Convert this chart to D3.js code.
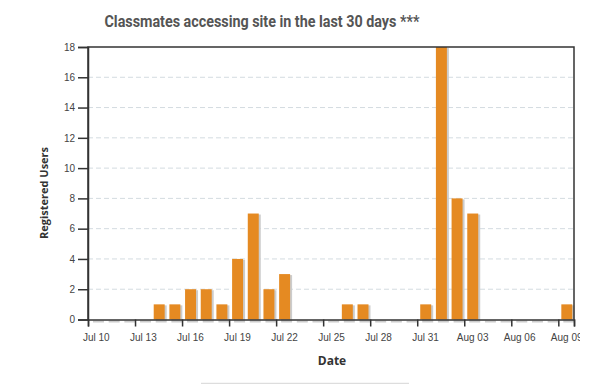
<!DOCTYPE html>
<html>
<head>
<meta charset="utf-8">
<script src="https://cdn.jsdelivr.net/npm/d3@7"></script>
<style>
  body { margin: 0; background: #fff; }
  svg { display: block; }
</style>
</head>
<body>
<svg id="chart" width="609" height="384"></svg>
<script>
// data
const days = ["2013-07-14", "2013-07-15", "2013-07-16", "2013-07-17", "2013-07-18",
    "2013-07-19", "2013-07-20", "2013-07-21", "2013-07-22", "2013-07-26", "2013-07-27",
    "2013-07-31", "2013-08-01", "2013-08-02", "2013-08-03", "2013-08-09"];
const users = [1, 1, 2, 2, 1, 4, 7, 2, 3, 1, 1, 1, 18, 8, 7, 1];
const rangeStart = "2013-07-10", rangeEnd = "2013-08-10";
const tickDays = ["2013-07-10", "2013-07-13", "2013-07-16", "2013-07-19", "2013-07-22",
    "2013-07-25", "2013-07-28", "2013-07-31", "2013-08-03", "2013-08-06", "2013-08-09"];
const yTicks = [0, 2, 4, 6, 8, 10, 12, 14, 16, 18];

const parse = d3.timeParse("%Y-%m-%d");

const svg = d3.select("#chart"),
    width = +svg.attr("width"),
    height = +svg.attr("height"),
    margin = { top: 47, right: 35, bottom: 64.5, left: 88 },
    chartWidth = width - margin.left - margin.right,
    chartHeight = height - margin.top - margin.bottom;

// fill in every day of the range, zero where nothing was read
const byDay = new Map(days.map((d, i) => [d, users[i]]));
const allDays = d3.timeDay.range(parse(rangeStart), parse(rangeEnd));
const fmtKey = d3.timeFormat("%Y-%m-%d");
const data = allDays.map(d => ({ date: d, value: byDay.get(fmtKey(d)) || 0 }));

const x = d3.scaleTime()
    .domain([parse(rangeStart), parse(rangeEnd)])
    .range([0, chartWidth]);
const dayW = x(parse("2013-07-11")) - x(parse("2013-07-10"));

const y = d3.scaleLinear()
    .domain([0, 18])
    .range([chartHeight, 0]);

const chart = svg.append("g")
    .attr("transform", `translate(${margin.left},${margin.top})`);

// title
const title = svg.append("text")
    .attr("x", 262)
    .attr("y", 27)
    .attr("text-anchor", "middle")
    .style("font-family", "Roboto, 'Liberation Sans', Arial, sans-serif")
    .style("font-weight", "bold")
    .style("font-size", "16px")
    .style("fill", "#555")
    .text("Classmates accessing site in the last 30 days ***");
// squeeze to the width seen in the reference
title.attr("textLength", 315).attr("lengthAdjust", "spacingAndGlyphs");

// grid lines
chart.append("g")
    .selectAll("line")
    .data(yTicks.filter(t => t > 0 && t < 18))
    .join("line")
    .attr("x1", 0)
    .attr("x2", chartWidth)
    .attr("y1", d => y(d))
    .attr("y2", d => y(d))
    .attr("stroke", "#d3dbe0")
    .attr("stroke-dasharray", "5,3");

// bars with drop shadow
const bw = dayW * 0.7;
chart.append("g")
    .selectAll("rect")
    .data(data)
    .join("rect")
    .attr("x", d => x(d.date) + 3 + 2)
    .attr("y", d => y(d.value) + 1)
    .attr("width", bw)
    .attr("height", d => chartHeight - y(d.value) + 2)
    .attr("fill", "#cccccc");

chart.append("g")
    .selectAll("rect")
    .data(data.filter(d => d.value > 0))
    .join("rect")
    .attr("x", d => x(d.date) + 3)
    .attr("y", d => y(d.value))
    .attr("width", bw)
    .attr("height", d => chartHeight - y(d.value))
    .attr("fill", "#e58a22");

// frame
chart.append("path")
    .attr("d", `M0,${chartHeight}V0H${chartWidth}V${chartHeight}`)
    .attr("fill", "none")
    .attr("stroke", "#333")
    .attr("stroke-width", 1.5);

// axes
svg.append("clipPath").attr("id", "xclip")
    .append("rect").attr("x", -30).attr("y", -5).attr("width", chartWidth + 36).attr("height", 40);

const yAxis = chart.append("g")
    .call(d3.axisLeft(y).tickValues(yTicks).tickSize(10).tickPadding(3));

const xAxis = chart.append("g")
    .attr("transform", `translate(0,${chartHeight})`)
    .attr("clip-path", "url(#xclip)")
    .call(d3.axisBottom(x)
        .tickValues(tickDays.map(parse).concat([parse(rangeEnd)]))
        .tickFormat(d => +d === +parse(rangeEnd) ? "" : d3.timeFormat("%b %d")(d))
        .tickSize(7).tickPadding(7));

xAxis.selectAll(".tick text").attr("dx", dayW / 2);

[yAxis, xAxis].forEach(a => {
    a.select(".domain").attr("stroke", "#333").attr("stroke-width", 1.5);
    a.selectAll(".tick line").attr("stroke", "#333").attr("stroke-width", 1.5);
    a.selectAll(".tick text")
        .style("font-family", "'Liberation Sans', Arial, sans-serif")
        .style("font-size", "10px")
        .style("fill", "#444");
});

// axis labels
svg.append("text")
    .attr("x", 332)
    .attr("y", 365)
    .attr("text-anchor", "middle")
    .style("font-family", "'Open Sans', sans-serif")
    .style("font-weight", "bold")
    .style("font-size", "12px")
    .style("fill", "#333")
    .text("Date");

svg.append("text")
    .attr("transform", "translate(48,193) rotate(-90)")
    .attr("text-anchor", "middle")
    .style("font-family", "'Open Sans', sans-serif")
    .style("font-weight", "bold")
    .style("font-size", "11px")
    .style("fill", "#333")
    .text("Registered Users");

// faint rule at the bottom of the page
svg.append("line")
    .attr("x1", 201).attr("x2", 409)
    .attr("y1", 383.5).attr("y2", 383.5)
    .attr("stroke", "#ddd")
    .attr("stroke-width", 1.5);
</script>
</body>
</html>
